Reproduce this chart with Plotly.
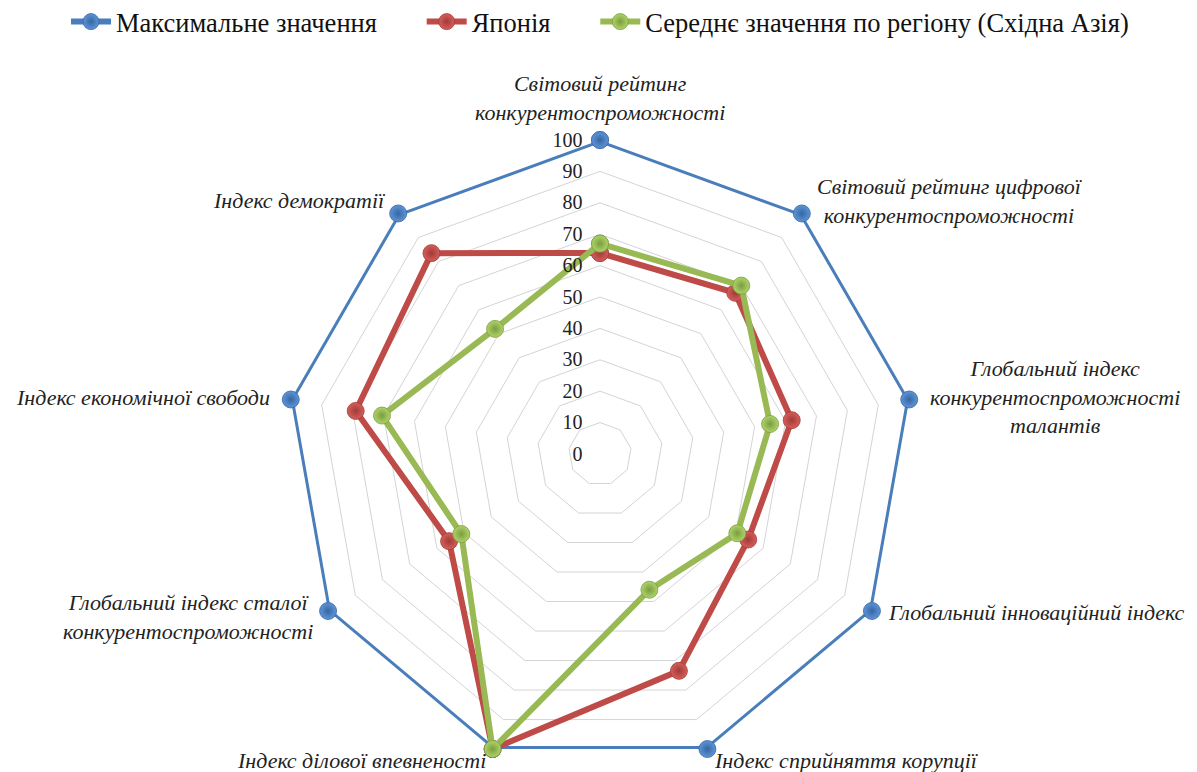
import plotly.graph_objects as go

categories = [
    "Світовий рейтинг<br>конкурентоспроможності",
    "Світовий рейтинг цифрової<br>конкурентоспроможності",
    "Глобальний індекс<br>конкурентоспроможності<br>талантів",
    "Глобальний інноваційний індекс",
    "Індекс сприйняття корупції",
    "Індекс ділової впевненості",
    "Глобальний індекс сталої<br>конкурентоспроможності",
    "Індекс економічної свободи",
    "Індекс демократії",
]
max_values = [100, 100, 100, 100, 100, 100, 100, 100, 100]
japan_values = [64, 67, 62, 54.5, 73.5, 100, 55.5, 79, 83.5]
region_values = [67, 70, 55, 50.5, 46, 100, 51, 70.5, 52]
series_names = ["Максимальне значення", "Японія", "Середнє значення по регіону (Східна Азія)"]
radial_ticks = [0, 10, 20, 30, 40, 50, 60, 70, 80, 90, 100]

# label placement (screen pixels) for the category names, same order as categories
label_px = [(600, 98, "center"), (950, 201, "center"), (1055, 397, "center"),
            (886, 612, "left"), (712, 760, "left"), (488, 760, "right"),
            (188, 617, "center"), (272, 397, "right"), (388, 200, "right")]
PAGE_OFFSET = 8  # default body margin of the html page

colors = ["#4a7ebb", "#be4b48", "#98b954"]
light = ["#5f95d6", "#d45f5b", "#add46a"]
edge = ["#3566a3", "#a33a37", "#7d9c3e"]
NB = "\u00a0"

fig = go.Figure()
for i, (name, vals, c, lc, e) in enumerate(zip(series_names, [max_values, japan_values, region_values],
                                               colors, light, edge)):
    fig.add_trace(go.Scatterpolar(
        r=vals + vals[:1],
        theta=categories + categories[:1],
        mode="lines+markers",
        name=name + (NB * 6 if i < 2 else ""),
        line=dict(color=c, width=6),
        marker=dict(size=17, color=lc, line=dict(color=e, width=0.8),
                    gradient=dict(type="radial", color=e)),
    ))

L, R, T, B = 0, 13, 132, 12
W, H = 1197, 772
pw, ph = W - L - R, H - T - B
annotations = []
for text, (px, py, anchor) in zip(categories, label_px):
    fx, fy = px - PAGE_OFFSET, py - PAGE_OFFSET
    annotations.append(dict(
        text=text, x=(fx - L) / pw, y=(H - B - fy) / ph, xref="paper", yref="paper",
        xanchor=anchor, yanchor="middle", align="center", showarrow=False,
        font=dict(size=22, color="#222", style="italic",
                  family="Liberation Serif, Times New Roman, serif"),
    ))

fig.update_layout(
    width=W, height=H,
    paper_bgcolor="white",
    margin=dict(l=L, r=R, t=T, b=B),
    font=dict(family="Liberation Serif, Times New Roman, serif", color="#222"),
    annotations=annotations,
    polar=dict(
        bgcolor="white",
        gridshape="linear",
        radialaxis=dict(
            range=[0, 100], tickvals=radial_ticks, angle=90, tickangle=90,
            side="counterclockwise",
            showline=False, ticks="outside", ticklen=10, tickcolor="rgba(0,0,0,0)",
            gridcolor="#d4d4d4", gridwidth=1,
            tickfont=dict(size=20, color="#222"),
        ),
        angularaxis=dict(
            rotation=90, direction="clockwise", showgrid=False, showline=False,
            ticks="", showticklabels=False,
        ),
    ),
    legend=dict(
        orientation="h", x=0.5, xanchor="center", y=0.982, yanchor="middle",
        yref="container", font=dict(size=26.5, color="#111"),
        itemwidth=40, traceorder="normal",
    ),
)

fig.write_html("out.html")
